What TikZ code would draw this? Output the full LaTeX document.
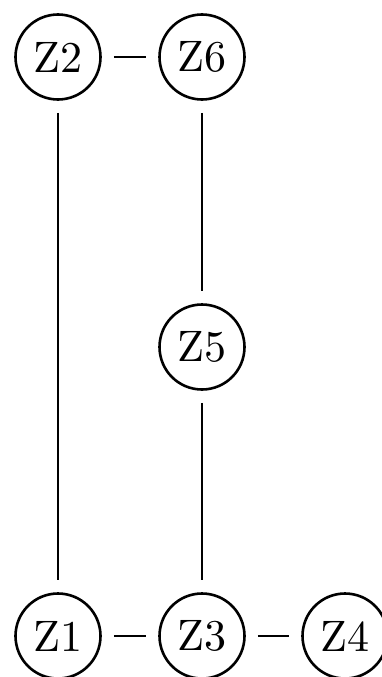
\documentclass[tikz,border=0pt]{standalone}
\usepackage{graphicx}
\newcommand\zlab[1]{\scalebox{4.4}{#1}}
\begin{document}
\begin{tikzpicture}[x=1pt,y=-1pt,
  zn/.style={circle,draw,line width=2.6pt,minimum size=85pt,inner sep=0pt,font=\normalsize},
  link/.style={line width=2.6pt,shorten <=12pt,shorten >=12pt}]
\useasboundingbox (0,0) rectangle (382,677);
\node[zn] (z2) at (58,57) {\zlab{Z2}};
\node[zn] (z6) at (202,57) {\zlab{Z6}};
\node[zn] (z5) at (202,347) {\zlab{Z5}};
\node[zn] (z1) at (58,636) {\zlab{Z1}};
\node[zn] (z3) at (202,636) {\zlab{Z3}};
\node[zn] (z4) at (345,636) {\zlab{Z4}};
\draw[link] (z2) -- (z6);
\draw[link] (z2) -- (z1);
\draw[link] (z6) -- (z5);
\draw[link] (z5) -- (z3);
\draw[link] (z1) -- (z3);
\draw[link] (z3) -- (z4);
\end{tikzpicture}
\end{document}
